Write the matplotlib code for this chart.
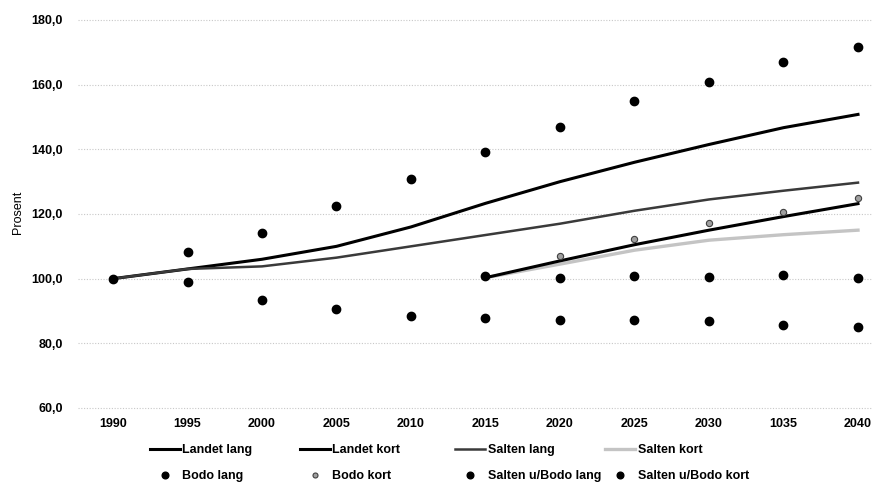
import matplotlib
matplotlib.use("Agg")
import matplotlib.pyplot as plt

plt.rcParams['font.family'] = ['Liberation Sans', 'DejaVu Sans']
plt.rcParams['font.weight'] = 'bold'

years = [1990, 1995, 2000, 2005, 2010, 2015, 2020, 2025, 2030, 2035, 2040]
xtick_labels = ["1990", "1995", "2000", "2005", "2010", "2015", "2020", "2025", "2030", "1035", "2040"]
proj_years = [2015, 2020, 2025, 2030, 2035, 2040]

landet_lang = [100.0, 103.0, 106.0, 110.0, 116.0, 123.3, 130.0, 136.0, 141.5, 146.7, 150.8]
salten_lang = [100.0, 103.0, 103.8, 106.5, 110.0, 113.5, 117.0, 121.0, 124.5, 127.2, 129.7]
landet_kort = [100.3, 105.5, 110.5, 115.0, 119.2, 123.2]
salten_kort = [100.3, 104.5, 108.8, 111.9, 113.6, 115.0]

bodo_lang = [100.0, 108.4, 114.2, 122.6, 130.7, 139.3, 147.0, 154.8, 160.7, 166.9, 171.8]
bodo_kort = [100.3, 107.0, 112.3, 117.3, 120.7, 125.0]
salten_ubodo_lang = [100.0, 98.9, 93.3, 90.7, 88.5, 87.9, 87.3, 87.3, 86.8, 85.8, 84.9]
salten_ubodo_kort = [100.7, 100.1, 100.9, 100.5, 101.0, 100.1]

yticks = [60, 80, 100, 120, 140, 160, 180]
ytick_labels = ["60,0", "80,0", "100,0", "120,0", "140,0", "160,0", "180,0"]

W, H = 873, 483
fig = plt.figure(figsize=(W / 100, H / 100), dpi=100)
left, right, top, bottom = 78, 872, 10, 415
ax = fig.add_axes([left / W, 1 - bottom / H, (right - left) / W, (bottom - top) / H])

h_ll, = ax.plot(years, landet_lang, color='black', lw=2.2, label='Landet lang', zorder=3)
h_lk, = ax.plot(proj_years, landet_kort, color='black', lw=2.2, label='Landet kort', zorder=3)
h_sl, = ax.plot(years, salten_lang, color='#3a3a3a', lw=1.8, label='Salten lang', zorder=3)
h_sk, = ax.plot(proj_years, salten_kort, color='#c4c4c4', lw=2.4, label='Salten kort', zorder=2)

h_bl, = ax.plot(years, bodo_lang, ls='none', marker='o', ms=6, color='black', label='Bodo lang', zorder=4)
h_bk, = ax.plot(proj_years[1:], bodo_kort[1:], ls='none', marker='o', ms=4.5, markerfacecolor='#a0a0a0',
                markeredgecolor='#404040', markeredgewidth=0.8, label='Bodo kort', zorder=4)
h_sul, = ax.plot(years[1:], salten_ubodo_lang[1:], ls='none', marker='o', ms=6, color='black',
                 label='Salten u/Bodo lang', zorder=4)
h_suk, = ax.plot(proj_years, salten_ubodo_kort, ls='none', marker='o', ms=6, color='black',
                 label='Salten u/Bodo kort', zorder=4)

px_per_year = (858 - 113) / 50.0
ax.set_xlim(1990 - (113 - left) / px_per_year, 2040 + (right - 858) / px_per_year)
px_per_unit = (408 - 20) / 120.0
ax.set_ylim(60 - (bottom - 408) / px_per_unit, 180 + (20 - top) / px_per_unit)

ax.set_xticks(years)
ax.set_xticklabels(xtick_labels, fontsize=9)
ax.set_yticks(yticks)
ax.set_yticklabels(ytick_labels, fontsize=9)
ax.tick_params(axis='both', length=0)
ax.tick_params(axis='y', pad=11)
ax.tick_params(axis='x', pad=2.5)
for s in ax.spines.values():
    s.set_visible(False)
ax.grid(axis='y', color='#c8c8c8', lw=0.8, ls=(0, (1, 1.5)))
ax.set_axisbelow(True)
ax.set_ylabel("Prosent", fontsize=9, fontweight='normal')
ax.yaxis.set_label_coords(-54 / (right - left), 0.5)

columns = [(150, [h_ll, h_bl]), (300, [h_lk, h_bk]), (455, [h_sl, h_sul]), (605, [h_sk, h_suk])]
for xpix, hs in columns:
    leg = fig.legend(hs, [h.get_label() for h in hs], loc='center left',
                     bbox_to_anchor=(xpix / W, 1 - 463 / H), frameon=False, fontsize=9,
                     handlelength=2.4, handletextpad=0.2, labelspacing=1.1,
                     borderpad=0, borderaxespad=0, markerscale=0.8)

fig.savefig("out.png", dpi=100)
